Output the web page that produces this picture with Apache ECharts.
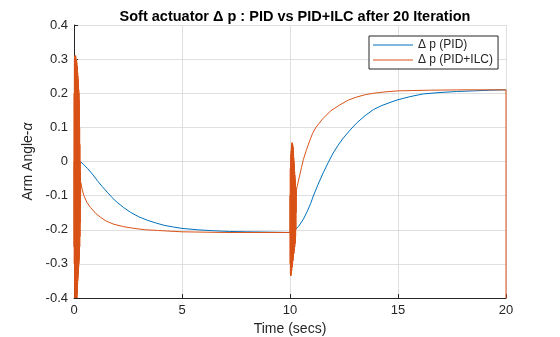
<!DOCTYPE html>
<html>
<head>
<meta charset="utf-8">
<script src="https://cdn.jsdelivr.net/npm/echarts@6/dist/echarts.min.js"></script>
<style>html,body{margin:0;padding:0;background:#fff;}#c{width:560px;height:337px;}</style>
</head>
<body>
<div id="c"></div>
<script>
// ---- data ----
var titleText = 'Soft actuator \u0394 p : PID vs PID+ILC after 20 Iteration';
var seriesNames = ['\u0394 p (PID)', '\u0394 p (PID+ILC)'];
var xTicks = [0, 5, 10, 15, 20];
var yTicks = [-0.4, -0.3, -0.2, -0.1, 0, 0.1, 0.2, 0.3, 0.4];

// PID (blue)
var pidTime = [0, 0.28, 0.45, 0.62, 0.85, 1.08, 1.3, 1.54, 1.77, 2.0, 2.3, 2.62, 3.0, 3.39, 3.78, 4.17, 4.6, 5.0, 5.7, 6.45, 7.2, 8.0, 9.0, 10.0,
  10.23, 10.4, 10.62, 10.8, 10.95, 11.08, 11.3, 11.54, 11.77, 12.0, 12.23, 12.47, 12.78, 13.09, 13.47, 13.86, 14.25, 14.63, 15.0, 15.55, 16.17, 16.9, 17.7, 18.5, 19.3, 20.0];
var pidValue = [0, 0, -0.009, -0.02, -0.037, -0.056, -0.073, -0.09, -0.106, -0.12, -0.135, -0.149, -0.162, -0.172, -0.18, -0.187, -0.192, -0.196, -0.2, -0.203, -0.205, -0.206, -0.207, -0.208,
  -0.2, -0.19, -0.169, -0.146, -0.124, -0.101, -0.067, -0.033, -0.003, 0.025, 0.048, 0.069, 0.092, 0.113, 0.134, 0.152, 0.164, 0.173, 0.181, 0.19, 0.198, 0.202, 0.205, 0.207, 0.209, 0.21];

// PID+ILC (orange): first oscillation burst near t = 0
var ilcBurst1Time = [0, 0.005, 0.01, 0.015, 0.02, 0.025, 0.03, 0.035, 0.04, 0.045, 0.05, 0.055, 0.06, 0.065, 0.07, 0.075, 0.08, 0.085, 0.09, 0.095,
  0.1, 0.105, 0.11, 0.115, 0.12, 0.125, 0.13, 0.135, 0.14, 0.145, 0.15, 0.155, 0.16, 0.165, 0.17, 0.175, 0.18, 0.185, 0.19, 0.195,
  0.2, 0.205, 0.21, 0.215, 0.22, 0.225, 0.23, 0.235, 0.24, 0.245, 0.25, 0.255, 0.26, 0.265, 0.27, 0.275, 0.28, 0.285, 0.29, 0.295, 0.3, 0.305];
var ilcBurst1Value = [0, -0.25, 0.2, -0.3, 0.3, -0.33, 0.3, -0.37, 0.31, -0.4, 0.3, -0.4, 0.31, -0.4, 0.3, -0.4, 0.31, -0.4, 0.3, -0.4,
  0.3, -0.4, 0.29, -0.4, 0.3, -0.4, 0.29, -0.4, 0.28, -0.39, 0.28, -0.38, 0.27, -0.36, 0.26, -0.35, 0.25, -0.34, 0.24, -0.33,
  0.23, -0.32, 0.22, -0.31, 0.21, -0.3, 0.2, -0.29, 0.18, -0.28, 0.15, -0.27, 0.1, -0.25, 0.05, -0.22, 0.0, -0.18, -0.03, -0.14, -0.05, -0.1];
// PID+ILC: decay to the first plateau
var ilcDecayTime = [0.31, 0.38, 0.46, 0.6, 0.77, 1.0, 1.24, 1.5, 1.85, 2.3, 2.78, 3.3, 3.86, 4.4, 5.0, 7.0, 10.0];
var ilcDecayValue = [-0.061, -0.082, -0.1, -0.12, -0.135, -0.152, -0.164, -0.175, -0.184, -0.191, -0.196, -0.2, -0.202, -0.204, -0.206, -0.208, -0.208];
// PID+ILC: second oscillation burst near t = 10
var ilcBurst2Time = [10.005, 10.01, 10.015, 10.02, 10.025, 10.03, 10.035, 10.04, 10.045, 10.05, 10.055, 10.06, 10.065, 10.07, 10.075, 10.08, 10.085, 10.09, 10.095,
  10.1, 10.105, 10.11, 10.115, 10.12, 10.125, 10.13, 10.135, 10.14, 10.145, 10.15, 10.155, 10.16, 10.165, 10.17, 10.175, 10.18, 10.185, 10.19, 10.195,
  10.2, 10.205, 10.21, 10.215, 10.22, 10.225, 10.23, 10.235, 10.24, 10.245, 10.25, 10.255, 10.26, 10.265, 10.27, 10.275, 10.28];
var ilcBurst2Value = [-0.1, -0.3, -0.02, -0.33, 0.0, -0.335, 0.01, -0.335, 0.02, -0.33, 0.03, -0.33, 0.04, -0.32, 0.045, -0.32, 0.05, -0.31, 0.055,
  -0.31, 0.055, -0.3, 0.05, -0.3, 0.05, -0.29, 0.045, -0.29, 0.04, -0.28, 0.03, -0.28, 0.02, -0.27, 0.01, -0.27, 0.0, -0.26, -0.01,
  -0.26, -0.02, -0.25, -0.03, -0.25, -0.04, -0.24, -0.05, -0.24, -0.06, -0.23, -0.07, -0.22, -0.075, -0.2, -0.08, -0.15];
// PID+ILC: rise to the second plateau, then the final drop at t = 20
var ilcRiseTime = [10.3, 10.38, 10.45, 10.53, 10.62, 10.75, 10.93, 11.05, 11.2, 11.35, 11.54, 11.9, 12.31, 12.7, 13.09, 13.5, 13.86, 14.4, 15.0, 16.5, 18.0, 20.0, 20.0];
var ilcRiseValue = [-0.082, -0.06, -0.04, -0.018, 0.006, 0.032, 0.064, 0.083, 0.1, 0.112, 0.127, 0.149, 0.166, 0.18, 0.189, 0.196, 0.2, 0.204, 0.207, 0.209, 0.21, 0.21, -0.4];

function pairs(t, v) { return t.map(function (x, i) { return [x, v[i]]; }); }

var pidData = pairs(pidTime, pidValue);
var ilcData = [].concat(
  pairs(ilcBurst1Time, ilcBurst1Value),
  pairs(ilcDecayTime, ilcDecayValue),
  pairs(ilcBurst2Time, ilcBurst2Value),
  pairs(ilcRiseTime, ilcRiseValue)
);

var FONT = '"Liberation Sans", Arial, Helvetica, sans-serif';
var TXT = '#262626';

var chart = echarts.init(document.getElementById('c'), null, { renderer: 'canvas' });
chart.setOption({
  animation: false,
  backgroundColor: '#ffffff',
  title: {
    text: titleText, top: 4, left: 290, textAlign: 'center',
    textStyle: { fontFamily: FONT, fontSize: 14.5, fontWeight: 'bold', color: '#000' }
  },
  grid: { left: 74, right: 54, top: 25, bottom: 39, outerBoundsMode: 'none', containLabel: false },
  legend: {
    data: seriesNames, orient: 'vertical', left: 369, top: 36,
    padding: [2, 5, 2, 4], itemGap: 1, itemWidth: 40, itemHeight: 14, itemTextGap: 5,
    backgroundColor: '#fff', borderColor: '#262626', borderWidth: 1, borderRadius: 0,
    icon: 'path://M0,7 L40,7 L40,8 L0,8 Z',
    textStyle: { fontFamily: FONT, fontSize: 12, color: TXT, lineHeight: 14 }
  },
  xAxis: {
    type: 'value', min: xTicks[0], max: xTicks[xTicks.length - 1], interval: 5,
    name: 'Time (secs)', nameLocation: 'middle', nameGap: 24,
    nameTextStyle: { fontFamily: FONT, fontSize: 14, color: TXT },
    axisLine: { show: true, onZero: false, lineStyle: { color: TXT, width: 1 } },
    axisTick: { show: true, inside: true, length: 4, lineStyle: { color: TXT } },
    axisLabel: { fontFamily: FONT, fontSize: 13, color: TXT, margin: 6 },
    splitLine: { show: true, lineStyle: { color: '#dfdfdf', width: 1 } }
  },
  yAxis: {
    type: 'value', min: yTicks[0], max: yTicks[yTicks.length - 1], interval: 0.1,
    name: 'Arm Angle-{i|\u03b1}', nameLocation: 'middle', nameGap: 35, nameRotate: 90,
    nameTextStyle: { fontFamily: FONT, fontSize: 14, color: TXT,
      rich: { i: { fontFamily: FONT, fontSize: 14, color: TXT, fontStyle: 'italic' } } },
    axisLine: { show: true, onZero: false, lineStyle: { color: TXT, width: 1 } },
    axisTick: { show: true, inside: true, length: 4, lineStyle: { color: TXT } },
    axisLabel: { fontFamily: FONT, fontSize: 13, color: TXT, margin: 6,
      formatter: function (v) { return String(Math.round(v * 10) / 10); } },
    splitLine: { show: true, lineStyle: { color: '#dfdfdf', width: 1 } }
  },
  series: [
    {
      name: seriesNames[0], type: 'line', data: pidData,
      showSymbol: false, symbol: 'none', smooth: false,
      lineStyle: { color: '#0072BD', width: 1 }, itemStyle: { color: '#0072BD' }
    },
    {
      name: seriesNames[1], type: 'line', data: ilcData,
      showSymbol: false, symbol: 'none', smooth: false,
      lineStyle: { color: '#D95319', width: 1 }, itemStyle: { color: '#D95319' }
    }
  ]
});
</script>
</body>
</html>
